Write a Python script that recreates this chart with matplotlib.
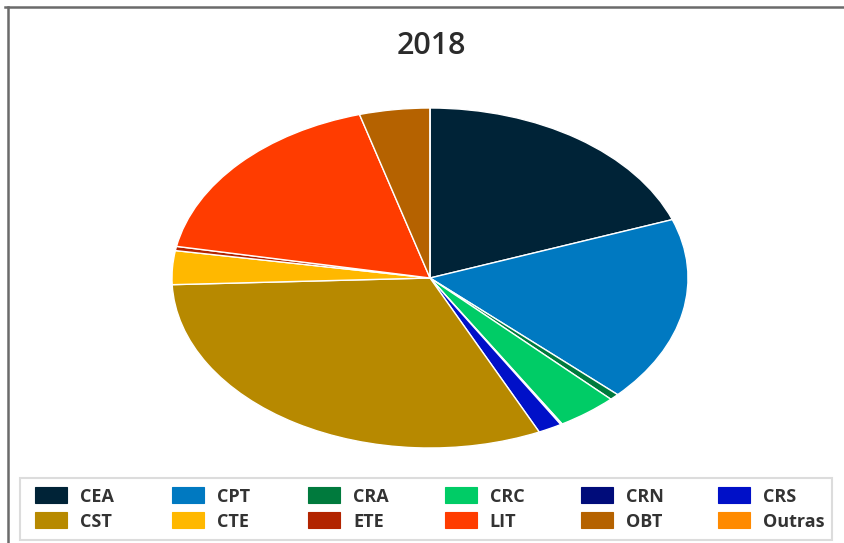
import matplotlib
matplotlib.use("Agg")
import matplotlib.pyplot as plt
from matplotlib.patches import Rectangle
from matplotlib.lines import Line2D

plt.rcParams['font.family'] = ['Open Sans', 'DejaVu Sans']

# Participação por categoria em 2018 (%)
categories = ["CEA", "CPT", "CRA", "CRC", "CRN", "CRS",
              "CST", "CTE", "ETE", "LIT", "OBT", "Outras"]
shares = [19.4, 17.6, 0.6, 3.8, 0.1, 1.5,
          31.3, 3.2, 0.4, 17.6, 4.4, 0.0]
colors = ["#002337", "#0079C1", "#007A3D", "#00CC66", "#000C7A", "#0010C8",
          "#B78900", "#FFB800", "#B22400", "#FF3C00", "#B56200", "#FF8A00"]
title = "2018"

W, H = 844, 543
fig = plt.figure(figsize=(W / 100, H / 100), dpi=100)
fig.patch.set_facecolor("white")


def fx(px):
    return px / W


def fy(py):
    return 1 - py / H


# outer frame (top and left edges)
fig.add_artist(Line2D([fx(5), 1.0], [fy(7), fy(7)], color="#6b6b6b",
                      linewidth=1.8, transform=fig.transFigure))
fig.add_artist(Line2D([fx(8), fx(8)], [0.0, fy(7)], color="#6b6b6b",
                      linewidth=1.8, transform=fig.transFigure))

fig.text(fx(431), fy(46), title, ha="center", va="center",
         fontsize=22, fontweight="semibold", color="#2b2b2b")

# pie, stretched horizontally
cx, cy, rx, ry = 430, 278, 258, 170
ax = fig.add_axes([fx(cx - rx), fy(cy + ry), 2 * rx / W, 2 * ry / H])
ax.pie(shares, colors=colors, startangle=90, counterclock=False,
       wedgeprops=dict(edgecolor="white", linewidth=1.0))
ax.set_aspect("auto")
ax.set_xlim(-1, 1)
ax.set_ylim(-1, 1)
ax.axis("off")

# legend box with two rows of six entries
fig.add_artist(Rectangle((fx(20), fy(540)), fx(832) - fx(20), fy(478) - fy(540),
                         transform=fig.transFigure, facecolor="white",
                         edgecolor="#dcdcdc", linewidth=1.5))
ncol = 6
x0, pitch = 35, 136.6
row_y = [495, 520]
sw_w, sw_h = 32, 16
for i, (lab, col) in enumerate(zip(categories, colors)):
    r, c = divmod(i, ncol)
    x = x0 + c * pitch
    y = row_y[r]
    fig.add_artist(Rectangle((fx(x), fy(y + sw_h / 2)), sw_w / W, sw_h / H,
                             transform=fig.transFigure, facecolor=col,
                             edgecolor=col, linewidth=0.8))
    fig.text(fx(x + 45), fy(y), lab, ha="left", va="center_baseline",
             fontsize=13, fontweight="bold", color="#333333")

fig.savefig("out.png", dpi=100)
